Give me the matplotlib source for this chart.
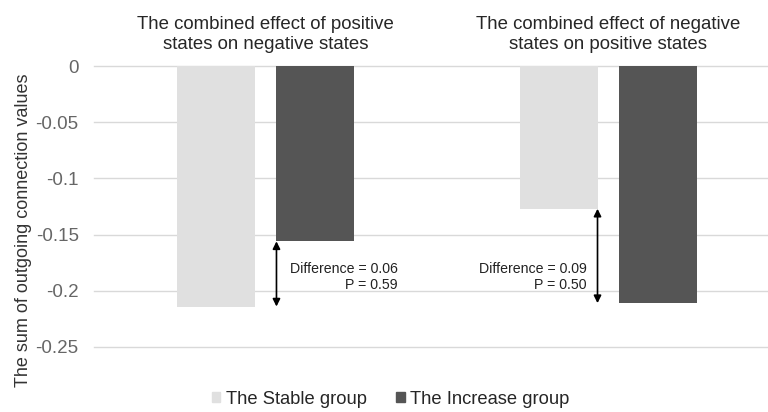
import numpy as np
import matplotlib.pyplot as plt
from matplotlib.patches import Patch

plt.rcParams["font.family"] = ["Liberation Sans", "DejaVu Sans"]

categories = ["The combined effect of positive\nstates on negative states",
              "The combined effect of negative\nstates on positive states"]
groups = ["The Stable group", "The Increase group"]
stable = [-0.214, -0.127]
increase = [-0.156, -0.211]
diff_labels = ["Difference = 0.06\nP = 0.59", "Difference = 0.09\nP = 0.50"]
yticks = [0, -0.05, -0.1, -0.15, -0.2, -0.25]
ytick_labels = ["0", "-0.05", "-0.1", "-0.15", "-0.2", "-0.25"]

c_stable = "#e0e0e0"
c_increase = "#555555"
width = 0.225
offset = 0.1445

fig = plt.figure(figsize=(7.68, 4.12), dpi=100)
ax = fig.add_axes([0.1224, 0.1578, 0.8932, 0.682])

x = np.arange(len(categories))
ax.bar(x - offset, stable, width, color=c_stable, zorder=2)
ax.bar(x + offset, increase, width, color=c_increase, zorder=2)

ax.set_xlim(-0.5, 1.5)
ax.set_ylim(-0.25, 0)
ax.set_yticks(yticks)
ax.set_yticklabels(ytick_labels, fontsize=13.5, color="#666666")
ax.set_xticks([])
ax.tick_params(axis="y", length=0, pad=11)
ax.grid(axis="y", color="#d9d9d9", linewidth=1, zorder=0)
for line in ax.get_ygridlines():
    line.set_clip_on(False)
for s in ax.spines.values():
    s.set_visible(False)
ax.set_ylabel("The sum of outgoing connection values", fontsize=13, color="#333333")
ax.yaxis.set_label_coords(-0.09, 0.416)

# category titles above the plot
for i, cat in enumerate(categories):
    ax.text(i, 1.045, cat, transform=ax.get_xaxis_transform(), ha="center", va="bottom",
            fontsize=13.4, color="#262626", linespacing=1.25)

# difference arrows
arrow_x = [0 + offset - width / 2, 1 - offset + width / 2]
text_x = [0.385, 0.936]
for i in range(2):
    lo = min(stable[i], increase[i])
    hi = max(stable[i], increase[i])
    ax.annotate("", xy=(arrow_x[i], lo), xytext=(arrow_x[i], hi),
                arrowprops=dict(arrowstyle="<|-|>", color="black", lw=1.2,
                                mutation_scale=11, shrinkA=0, shrinkB=0), zorder=3)
    ax.text(text_x[i], -0.1875, diff_labels[i], ha="right", va="center",
            fontsize=10.2, color="#222222", multialignment="right", linespacing=1.15)

handles = [Patch(color=c_stable, label=groups[0]), Patch(color=c_increase, label=groups[1])]
fig.legend(handles=handles, loc="lower center", bbox_to_anchor=(0.509, -0.03), ncol=2,
           frameon=False, fontsize=13.25, handlelength=0.45, handleheight=0.45,
           handletextpad=0.3, columnspacing=1.6, labelcolor="#262626")

fig.savefig("out.png", dpi=100)
